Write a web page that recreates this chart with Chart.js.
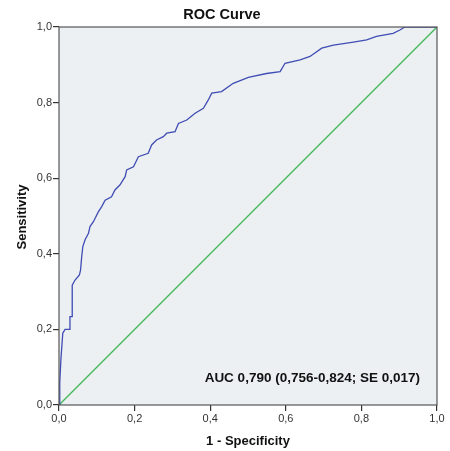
<!DOCTYPE html>
<html>
<head>
<meta charset="utf-8">
<script src="https://cdn.jsdelivr.net/npm/chart.js@4.4.1/dist/chart.umd.min.js"></script>
<style>
    body { margin: 0; background: #fff; }
    #wrap { width: 450px; height: 451px; }
</style>
</head>
<body>
<div id="wrap"><canvas id="roc" width="450" height="451"></canvas></div>
<script>
// ROC curve points (1 - specificity, sensitivity)
const fpr = [0, 0.002, 0.005, 0.01, 0.016, 0.027, 0.029, 0.035, 0.035, 0.042, 0.054, 0.057, 0.06, 0.063, 0.069, 0.078,
    0.082, 0.091, 0.104, 0.113, 0.122, 0.139, 0.148, 0.161, 0.175, 0.179, 0.197, 0.21, 0.236, 0.245, 0.258, 0.276,
    0.285, 0.307, 0.316, 0.338, 0.36, 0.382, 0.395, 0.404, 0.43, 0.461, 0.501, 0.549, 0.585, 0.598, 0.638, 0.664,
    0.695, 0.726, 0.779, 0.814, 0.84, 0.884, 0.902, 0.915, 1.0];
const tpr = [0, 0.06, 0.12, 0.19, 0.2, 0.2, 0.234, 0.234, 0.317, 0.33, 0.344, 0.357, 0.392, 0.419, 0.437, 0.454,
    0.472, 0.485, 0.511, 0.525, 0.542, 0.551, 0.569, 0.582, 0.604, 0.622, 0.63, 0.657, 0.666, 0.688, 0.701, 0.71,
    0.719, 0.723, 0.745, 0.754, 0.772, 0.785, 0.807, 0.825, 0.829, 0.851, 0.867, 0.877, 0.882, 0.904, 0.913, 0.922,
    0.944, 0.952, 0.96, 0.966, 0.975, 0.983, 0.992, 1.0, 1.0];
const refLine = [0, 1];
const tickValues = [0, 0.2, 0.4, 0.6, 0.8, 1.0];
const chartTitle = 'ROC Curve';
const xTitle = '1 - Specificity';
const yTitle = 'Sensitivity';
const aucLabel = 'AUC 0,790 (0,756-0,824; SE 0,017)';

const fmt = v => v.toFixed(1).replace('.', ',');
const family = '"Liberation Sans", Arial, sans-serif';

// plot background, titles and AUC note
const decor = {
    id: 'decor',
    beforeDatasetsDraw(chart) {
        const { ctx, chartArea: a } = chart;
        ctx.save();
        ctx.fillStyle = '#edf0f3';
        ctx.fillRect(a.left, a.top, a.right - a.left, a.bottom - a.top);
        ctx.restore();
    },
    afterDatasetsDraw(chart) {
        const { ctx, chartArea: a } = chart;
        ctx.save();
        ctx.strokeStyle = '#555';
        ctx.lineWidth = 1.2;
        ctx.strokeRect(a.left, a.top, a.right - a.left, a.bottom - a.top);
        ctx.fillStyle = '#111';
        ctx.textAlign = 'center';
        ctx.textBaseline = 'middle';
        ctx.font = 'bold 14.5px ' + family;
        ctx.fillText(chartTitle, 222, 15);
        ctx.font = 'bold 13px ' + family;
        ctx.fillText(xTitle, 248, 441);
        ctx.translate(22, 217);
        ctx.rotate(-Math.PI / 2);
        ctx.fillText(yTitle, 0, 0);
        ctx.restore();
        ctx.save();
        ctx.fillStyle = '#111';
        ctx.font = 'bold 13.5px ' + family;
        ctx.textAlign = 'right';
        ctx.textBaseline = 'middle';
        ctx.fillText(aucLabel, 420, 378);
        ctx.restore();
    }
};

const axisFont = { family: family, size: 11 };

new Chart(document.getElementById('roc'), {
    type: 'scatter',
    data: {
        datasets: [{
            data: fpr.map((x, i) => ({ x: x, y: tpr[i] })),
            showLine: true,
            borderColor: '#3f4db4',
            borderWidth: 1.3,
            pointRadius: 0,
            tension: 0
        }, {
            data: refLine.map(v => ({ x: v, y: v })),
            showLine: true,
            borderColor: '#4cbb5e',
            borderWidth: 1.5,
            pointRadius: 0
        }]
    },
    options: {
        responsive: false,
        animation: false,
        layout: { padding: { top: 27, right: 13, left: 0, bottom: 0 } },
        plugins: { legend: { display: false }, tooltip: { enabled: false } },
        scales: {
            x: {
                min: 0, max: 1,
                afterBuildTicks: s => { s.ticks = tickValues.map(v => ({ value: v })); },
                afterFit: s => { s.height = 46; },
                ticks: { callback: v => fmt(v), color: '#333', font: axisFont, padding: 1, maxRotation: 0 },
                grid: { drawOnChartArea: false, tickLength: 6, color: '#333', lineWidth: 1.2 },
                border: { display: false }
            },
            y: {
                min: 0, max: 1,
                afterBuildTicks: s => { s.ticks = tickValues.map(v => ({ value: v })); },
                afterFit: s => { s.width = 59; },
                ticks: { callback: v => fmt(v), color: '#333', font: axisFont, padding: 1 },
                grid: { drawOnChartArea: false, tickLength: 6, color: '#333', lineWidth: 1.2 },
                border: { display: false }
            }
        }
    },
    plugins: [decor]
});
</script>
</body>
</html>
